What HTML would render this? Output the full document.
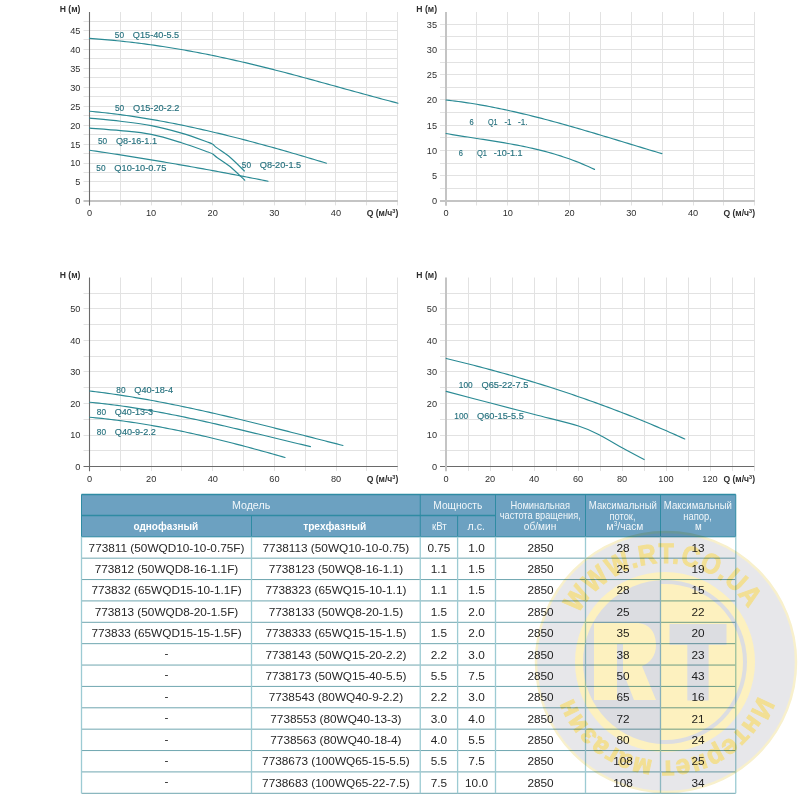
<!DOCTYPE html><html><head><meta charset="utf-8"><title>Pump curves</title><style>
html,body{margin:0;padding:0;background:#fff;width:800px;height:800px;overflow:hidden}
svg{position:absolute;left:0;top:0;font-family:"Liberation Sans", sans-serif}
.tk{font-size:9.2px;fill:#2e2e2e}
.ax{font-size:8.6px;font-weight:bold;fill:#2e2e2e}
.lb{font-size:8.3px;fill:#26717e;stroke:#26717e;stroke-width:0.15px}
.td{font-size:11.8px;fill:#262626}
.th{font-size:10.8px;fill:#f2f7fa}
.thb{font-size:10.8px;fill:#ffffff;font-weight:bold}
</style></head><body>
<svg width="800" height="800" viewBox="0 0 800 800">
<line x1="83.5" y1="191.5" x2="397.9" y2="191.5" stroke="#e2e2e2" stroke-width="1"/>
<line x1="83.5" y1="181.5" x2="397.9" y2="181.5" stroke="#e2e2e2" stroke-width="1"/>
<line x1="83.5" y1="172.5" x2="397.9" y2="172.5" stroke="#e2e2e2" stroke-width="1"/>
<line x1="83.5" y1="163.5" x2="397.9" y2="163.5" stroke="#e2e2e2" stroke-width="1"/>
<line x1="83.5" y1="153.5" x2="397.9" y2="153.5" stroke="#e2e2e2" stroke-width="1"/>
<line x1="83.5" y1="144.5" x2="397.9" y2="144.5" stroke="#e2e2e2" stroke-width="1"/>
<line x1="83.5" y1="134.5" x2="397.9" y2="134.5" stroke="#e2e2e2" stroke-width="1"/>
<line x1="83.5" y1="125.5" x2="397.9" y2="125.5" stroke="#e2e2e2" stroke-width="1"/>
<line x1="83.5" y1="115.5" x2="397.9" y2="115.5" stroke="#e2e2e2" stroke-width="1"/>
<line x1="83.5" y1="106.5" x2="397.9" y2="106.5" stroke="#e2e2e2" stroke-width="1"/>
<line x1="83.5" y1="96.5" x2="397.9" y2="96.5" stroke="#e2e2e2" stroke-width="1"/>
<line x1="83.5" y1="87.5" x2="397.9" y2="87.5" stroke="#e2e2e2" stroke-width="1"/>
<line x1="83.5" y1="77.5" x2="397.9" y2="77.5" stroke="#e2e2e2" stroke-width="1"/>
<line x1="83.5" y1="68.5" x2="397.9" y2="68.5" stroke="#e2e2e2" stroke-width="1"/>
<line x1="83.5" y1="58.5" x2="397.9" y2="58.5" stroke="#e2e2e2" stroke-width="1"/>
<line x1="83.5" y1="49.5" x2="397.9" y2="49.5" stroke="#e2e2e2" stroke-width="1"/>
<line x1="83.5" y1="39.5" x2="397.9" y2="39.5" stroke="#e2e2e2" stroke-width="1"/>
<line x1="83.5" y1="30.5" x2="397.9" y2="30.5" stroke="#e2e2e2" stroke-width="1"/>
<line x1="83.5" y1="21.5" x2="397.9" y2="21.5" stroke="#e2e2e2" stroke-width="1"/>
<line x1="120.5" y1="12" x2="120.5" y2="205.4" stroke="#e2e2e2" stroke-width="1"/>
<line x1="151.5" y1="12" x2="151.5" y2="205.4" stroke="#e2e2e2" stroke-width="1"/>
<line x1="181.5" y1="12" x2="181.5" y2="205.4" stroke="#e2e2e2" stroke-width="1"/>
<line x1="212.5" y1="12" x2="212.5" y2="205.4" stroke="#e2e2e2" stroke-width="1"/>
<line x1="243.5" y1="12" x2="243.5" y2="205.4" stroke="#e2e2e2" stroke-width="1"/>
<line x1="274.5" y1="12" x2="274.5" y2="205.4" stroke="#e2e2e2" stroke-width="1"/>
<line x1="305.5" y1="12" x2="305.5" y2="205.4" stroke="#e2e2e2" stroke-width="1"/>
<line x1="335.5" y1="12" x2="335.5" y2="205.4" stroke="#e2e2e2" stroke-width="1"/>
<line x1="366.5" y1="12" x2="366.5" y2="205.4" stroke="#e2e2e2" stroke-width="1"/>
<line x1="397.5" y1="12" x2="397.5" y2="205.4" stroke="#e2e2e2" stroke-width="1"/>
<line x1="83.5" y1="200.9" x2="397.9" y2="200.9" stroke="#c4c4c4" stroke-width="2"/>
<line x1="89.5" y1="12" x2="89.5" y2="205.6" stroke="#6a6a6a" stroke-width="1.1"/>
<text x="80.4" y="204.3" text-anchor="end" class="tk">0</text>
<text x="80.4" y="185.37" text-anchor="end" class="tk">5</text>
<text x="80.4" y="166.44" text-anchor="end" class="tk">10</text>
<text x="80.4" y="147.51" text-anchor="end" class="tk">15</text>
<text x="80.4" y="128.58" text-anchor="end" class="tk">20</text>
<text x="80.4" y="109.65" text-anchor="end" class="tk">25</text>
<text x="80.4" y="90.72" text-anchor="end" class="tk">30</text>
<text x="80.4" y="71.79" text-anchor="end" class="tk">35</text>
<text x="80.4" y="52.86" text-anchor="end" class="tk">40</text>
<text x="80.4" y="33.93" text-anchor="end" class="tk">45</text>
<text x="89.5" y="216" text-anchor="middle" class="tk">0</text>
<text x="151.1" y="216" text-anchor="middle" class="tk">10</text>
<text x="212.7" y="216" text-anchor="middle" class="tk">20</text>
<text x="274.3" y="216" text-anchor="middle" class="tk">30</text>
<text x="335.9" y="216" text-anchor="middle" class="tk">40</text>
<text x="80.4" y="12" text-anchor="end" class="ax">H (м)</text>
<text x="398.3" y="216.2" text-anchor="end" class="ax">Q (м/ч<tspan font-size="5.5" dy="-3">3</tspan><tspan dy="3">)</tspan></text>
<line x1="440" y1="188.5" x2="754.75" y2="188.5" stroke="#e2e2e2" stroke-width="1"/>
<line x1="440" y1="175.5" x2="754.75" y2="175.5" stroke="#e2e2e2" stroke-width="1"/>
<line x1="440" y1="163.5" x2="754.75" y2="163.5" stroke="#e2e2e2" stroke-width="1"/>
<line x1="440" y1="150.5" x2="754.75" y2="150.5" stroke="#e2e2e2" stroke-width="1"/>
<line x1="440" y1="137.5" x2="754.75" y2="137.5" stroke="#e2e2e2" stroke-width="1"/>
<line x1="440" y1="125.5" x2="754.75" y2="125.5" stroke="#e2e2e2" stroke-width="1"/>
<line x1="440" y1="112.5" x2="754.75" y2="112.5" stroke="#e2e2e2" stroke-width="1"/>
<line x1="440" y1="99.5" x2="754.75" y2="99.5" stroke="#e2e2e2" stroke-width="1"/>
<line x1="440" y1="87.5" x2="754.75" y2="87.5" stroke="#e2e2e2" stroke-width="1"/>
<line x1="440" y1="74.5" x2="754.75" y2="74.5" stroke="#e2e2e2" stroke-width="1"/>
<line x1="440" y1="62.5" x2="754.75" y2="62.5" stroke="#e2e2e2" stroke-width="1"/>
<line x1="440" y1="49.5" x2="754.75" y2="49.5" stroke="#e2e2e2" stroke-width="1"/>
<line x1="440" y1="36.5" x2="754.75" y2="36.5" stroke="#e2e2e2" stroke-width="1"/>
<line x1="440" y1="24.5" x2="754.75" y2="24.5" stroke="#e2e2e2" stroke-width="1"/>
<line x1="476.5" y1="12" x2="476.5" y2="205.5" stroke="#e2e2e2" stroke-width="1"/>
<line x1="507.5" y1="12" x2="507.5" y2="205.5" stroke="#e2e2e2" stroke-width="1"/>
<line x1="538.5" y1="12" x2="538.5" y2="205.5" stroke="#e2e2e2" stroke-width="1"/>
<line x1="569.5" y1="12" x2="569.5" y2="205.5" stroke="#e2e2e2" stroke-width="1"/>
<line x1="600.5" y1="12" x2="600.5" y2="205.5" stroke="#e2e2e2" stroke-width="1"/>
<line x1="631.5" y1="12" x2="631.5" y2="205.5" stroke="#e2e2e2" stroke-width="1"/>
<line x1="662.5" y1="12" x2="662.5" y2="205.5" stroke="#e2e2e2" stroke-width="1"/>
<line x1="693.5" y1="12" x2="693.5" y2="205.5" stroke="#e2e2e2" stroke-width="1"/>
<line x1="723.5" y1="12" x2="723.5" y2="205.5" stroke="#e2e2e2" stroke-width="1"/>
<line x1="754.5" y1="12" x2="754.5" y2="205.5" stroke="#e2e2e2" stroke-width="1"/>
<line x1="440" y1="201" x2="754.75" y2="201" stroke="#c4c4c4" stroke-width="2"/>
<line x1="446" y1="12" x2="446" y2="205.7" stroke="#c4c4c4" stroke-width="2"/>
<text x="437" y="204.4" text-anchor="end" class="tk">0</text>
<text x="437" y="179.14" text-anchor="end" class="tk">5</text>
<text x="437" y="153.87" text-anchor="end" class="tk">10</text>
<text x="437" y="128.6" text-anchor="end" class="tk">15</text>
<text x="437" y="103.34" text-anchor="end" class="tk">20</text>
<text x="437" y="78.08" text-anchor="end" class="tk">25</text>
<text x="437" y="52.81" text-anchor="end" class="tk">30</text>
<text x="437" y="27.55" text-anchor="end" class="tk">35</text>
<text x="446" y="216" text-anchor="middle" class="tk">0</text>
<text x="507.75" y="216" text-anchor="middle" class="tk">10</text>
<text x="569.5" y="216" text-anchor="middle" class="tk">20</text>
<text x="631.25" y="216" text-anchor="middle" class="tk">30</text>
<text x="693" y="216" text-anchor="middle" class="tk">40</text>
<text x="437" y="12" text-anchor="end" class="ax">H (м)</text>
<text x="755" y="216.2" text-anchor="end" class="ax">Q (м/ч<tspan font-size="5.5" dy="-3">3</tspan><tspan dy="3">)</tspan></text>
<line x1="83.5" y1="450.5" x2="397.7" y2="450.5" stroke="#e2e2e2" stroke-width="1"/>
<line x1="83.5" y1="435.5" x2="397.7" y2="435.5" stroke="#e2e2e2" stroke-width="1"/>
<line x1="83.5" y1="419.5" x2="397.7" y2="419.5" stroke="#e2e2e2" stroke-width="1"/>
<line x1="83.5" y1="403.5" x2="397.7" y2="403.5" stroke="#e2e2e2" stroke-width="1"/>
<line x1="83.5" y1="387.5" x2="397.7" y2="387.5" stroke="#e2e2e2" stroke-width="1"/>
<line x1="83.5" y1="371.5" x2="397.7" y2="371.5" stroke="#e2e2e2" stroke-width="1"/>
<line x1="83.5" y1="356.5" x2="397.7" y2="356.5" stroke="#e2e2e2" stroke-width="1"/>
<line x1="83.5" y1="340.5" x2="397.7" y2="340.5" stroke="#e2e2e2" stroke-width="1"/>
<line x1="83.5" y1="324.5" x2="397.7" y2="324.5" stroke="#e2e2e2" stroke-width="1"/>
<line x1="83.5" y1="308.5" x2="397.7" y2="308.5" stroke="#e2e2e2" stroke-width="1"/>
<line x1="83.5" y1="293.5" x2="397.7" y2="293.5" stroke="#e2e2e2" stroke-width="1"/>
<line x1="120.5" y1="277.5" x2="120.5" y2="471.05" stroke="#e2e2e2" stroke-width="1"/>
<line x1="151.5" y1="277.5" x2="151.5" y2="471.05" stroke="#e2e2e2" stroke-width="1"/>
<line x1="181.5" y1="277.5" x2="181.5" y2="471.05" stroke="#e2e2e2" stroke-width="1"/>
<line x1="212.5" y1="277.5" x2="212.5" y2="471.05" stroke="#e2e2e2" stroke-width="1"/>
<line x1="243.5" y1="277.5" x2="243.5" y2="471.05" stroke="#e2e2e2" stroke-width="1"/>
<line x1="274.5" y1="277.5" x2="274.5" y2="471.05" stroke="#e2e2e2" stroke-width="1"/>
<line x1="305.5" y1="277.5" x2="305.5" y2="471.05" stroke="#e2e2e2" stroke-width="1"/>
<line x1="336.5" y1="277.5" x2="336.5" y2="471.05" stroke="#e2e2e2" stroke-width="1"/>
<line x1="366.5" y1="277.5" x2="366.5" y2="471.05" stroke="#e2e2e2" stroke-width="1"/>
<line x1="397.5" y1="277.5" x2="397.5" y2="471.05" stroke="#e2e2e2" stroke-width="1"/>
<line x1="83.5" y1="466.5" x2="397.7" y2="466.5" stroke="#6a6a6a" stroke-width="1.1"/>
<line x1="89.5" y1="277.5" x2="89.5" y2="471.25" stroke="#6a6a6a" stroke-width="1.1"/>
<text x="80.4" y="469.95" text-anchor="end" class="tk">0</text>
<text x="80.4" y="438.41" text-anchor="end" class="tk">10</text>
<text x="80.4" y="406.88" text-anchor="end" class="tk">20</text>
<text x="80.4" y="375.34" text-anchor="end" class="tk">30</text>
<text x="80.4" y="343.81" text-anchor="end" class="tk">40</text>
<text x="80.4" y="312.27" text-anchor="end" class="tk">50</text>
<text x="89.5" y="481.85" text-anchor="middle" class="tk">0</text>
<text x="151.14" y="481.85" text-anchor="middle" class="tk">20</text>
<text x="212.78" y="481.85" text-anchor="middle" class="tk">40</text>
<text x="274.42" y="481.85" text-anchor="middle" class="tk">60</text>
<text x="336.06" y="481.85" text-anchor="middle" class="tk">80</text>
<text x="80.4" y="277.6" text-anchor="end" class="ax">H (м)</text>
<text x="398.3" y="482" text-anchor="end" class="ax">Q (м/ч<tspan font-size="5.5" dy="-3">3</tspan><tspan dy="3">)</tspan></text>
<line x1="440" y1="450.5" x2="754.25" y2="450.5" stroke="#e2e2e2" stroke-width="1"/>
<line x1="440" y1="435.5" x2="754.25" y2="435.5" stroke="#e2e2e2" stroke-width="1"/>
<line x1="440" y1="419.5" x2="754.25" y2="419.5" stroke="#e2e2e2" stroke-width="1"/>
<line x1="440" y1="403.5" x2="754.25" y2="403.5" stroke="#e2e2e2" stroke-width="1"/>
<line x1="440" y1="387.5" x2="754.25" y2="387.5" stroke="#e2e2e2" stroke-width="1"/>
<line x1="440" y1="371.5" x2="754.25" y2="371.5" stroke="#e2e2e2" stroke-width="1"/>
<line x1="440" y1="356.5" x2="754.25" y2="356.5" stroke="#e2e2e2" stroke-width="1"/>
<line x1="440" y1="340.5" x2="754.25" y2="340.5" stroke="#e2e2e2" stroke-width="1"/>
<line x1="440" y1="324.5" x2="754.25" y2="324.5" stroke="#e2e2e2" stroke-width="1"/>
<line x1="440" y1="308.5" x2="754.25" y2="308.5" stroke="#e2e2e2" stroke-width="1"/>
<line x1="440" y1="293.5" x2="754.25" y2="293.5" stroke="#e2e2e2" stroke-width="1"/>
<line x1="468.5" y1="277.5" x2="468.5" y2="471.05" stroke="#e2e2e2" stroke-width="1"/>
<line x1="490.5" y1="277.5" x2="490.5" y2="471.05" stroke="#e2e2e2" stroke-width="1"/>
<line x1="512.5" y1="277.5" x2="512.5" y2="471.05" stroke="#e2e2e2" stroke-width="1"/>
<line x1="534.5" y1="277.5" x2="534.5" y2="471.05" stroke="#e2e2e2" stroke-width="1"/>
<line x1="556.5" y1="277.5" x2="556.5" y2="471.05" stroke="#e2e2e2" stroke-width="1"/>
<line x1="578.5" y1="277.5" x2="578.5" y2="471.05" stroke="#e2e2e2" stroke-width="1"/>
<line x1="600.5" y1="277.5" x2="600.5" y2="471.05" stroke="#e2e2e2" stroke-width="1"/>
<line x1="622.5" y1="277.5" x2="622.5" y2="471.05" stroke="#e2e2e2" stroke-width="1"/>
<line x1="644.5" y1="277.5" x2="644.5" y2="471.05" stroke="#e2e2e2" stroke-width="1"/>
<line x1="666.5" y1="277.5" x2="666.5" y2="471.05" stroke="#e2e2e2" stroke-width="1"/>
<line x1="688.5" y1="277.5" x2="688.5" y2="471.05" stroke="#e2e2e2" stroke-width="1"/>
<line x1="710.5" y1="277.5" x2="710.5" y2="471.05" stroke="#e2e2e2" stroke-width="1"/>
<line x1="732.5" y1="277.5" x2="732.5" y2="471.05" stroke="#e2e2e2" stroke-width="1"/>
<line x1="754.5" y1="277.5" x2="754.5" y2="471.05" stroke="#e2e2e2" stroke-width="1"/>
<line x1="440" y1="466.5" x2="754.25" y2="466.5" stroke="#6a6a6a" stroke-width="1.1"/>
<line x1="446" y1="277.5" x2="446" y2="471.25" stroke="#c4c4c4" stroke-width="2"/>
<text x="437" y="469.95" text-anchor="end" class="tk">0</text>
<text x="437" y="438.41" text-anchor="end" class="tk">10</text>
<text x="437" y="406.88" text-anchor="end" class="tk">20</text>
<text x="437" y="375.34" text-anchor="end" class="tk">30</text>
<text x="437" y="343.81" text-anchor="end" class="tk">40</text>
<text x="437" y="312.27" text-anchor="end" class="tk">50</text>
<text x="446" y="481.85" text-anchor="middle" class="tk">0</text>
<text x="490" y="481.85" text-anchor="middle" class="tk">20</text>
<text x="534" y="481.85" text-anchor="middle" class="tk">40</text>
<text x="578" y="481.85" text-anchor="middle" class="tk">60</text>
<text x="622" y="481.85" text-anchor="middle" class="tk">80</text>
<text x="666" y="481.85" text-anchor="middle" class="tk">100</text>
<text x="710" y="481.85" text-anchor="middle" class="tk">120</text>
<text x="437" y="277.6" text-anchor="end" class="ax">H (м)</text>
<text x="755" y="482" text-anchor="end" class="ax">Q (м/ч<tspan font-size="5.5" dy="-3">3</tspan><tspan dy="3">)</tspan></text>
<path d="M89.5 38.41 L92.55 38.62 L95.61 38.85 L98.66 39.09 L101.72 39.34 L104.77 39.6 L107.83 39.86 L110.88 40.14 L113.94 40.44 L116.99 40.74 L120.04 41.05 L123.1 41.37 L126.15 41.7 L129.21 42.05 L132.26 42.4 L135.32 42.77 L138.37 43.14 L141.43 43.53 L144.48 43.93 L147.53 44.34 L150.59 44.75 L153.64 45.18 L156.7 45.62 L159.75 46.07 L162.81 46.54 L165.86 47.01 L168.92 47.49 L171.97 47.98 L175.02 48.48 L178.08 49 L181.13 49.52 L184.19 50.05 L187.24 50.6 L190.3 51.15 L193.35 51.71 L196.41 52.28 L199.46 52.87 L202.51 53.46 L205.57 54.06 L208.62 54.67 L211.68 55.29 L214.73 55.92 L217.79 56.56 L220.84 57.2 L223.9 57.86 L226.95 58.52 L230 59.2 L233.06 59.88 L236.11 60.57 L239.17 61.26 L242.22 61.97 L245.28 62.68 L248.33 63.4 L251.39 64.13 L254.44 64.86 L257.5 65.61 L260.55 66.35 L263.6 67.11 L266.66 67.87 L269.71 68.64 L272.77 69.41 L275.82 70.19 L278.88 70.98 L281.93 71.77 L284.99 72.56 L288.04 73.37 L291.09 74.17 L294.15 74.98 L297.2 75.8 L300.26 76.61 L303.31 77.44 L306.37 78.26 L309.42 79.09 L312.48 79.92 L315.53 80.76 L318.58 81.59 L321.64 82.43 L324.69 83.27 L327.75 84.11 L330.8 84.96 L333.86 85.8 L336.91 86.65 L339.97 87.49 L343.02 88.34 L346.07 89.18 L349.13 90.03 L352.18 90.87 L355.24 91.72 L358.29 92.56 L361.35 93.4 L364.4 94.23 L367.46 95.07 L370.51 95.9 L373.56 96.73 L376.62 97.56 L379.67 98.38 L382.73 99.19 L385.78 100 L388.84 100.81 L391.89 101.61 L394.95 102.41 L398 103.2" fill="none" stroke="#2a8a94" stroke-width="1.15" stroke-linejoin="round" stroke-linecap="round"/>
<path d="M89.6 111.26 L92.68 111.53 L95.75 111.83 L98.83 112.13 L101.91 112.45 L104.98 112.79 L108.06 113.13 L111.14 113.49 L114.21 113.87 L117.29 114.26 L120.37 114.66 L123.44 115.07 L126.52 115.49 L129.6 115.93 L132.67 116.38 L135.75 116.85 L138.83 117.32 L141.9 117.81 L144.98 118.31 L148.06 118.82 L151.13 119.34 L154.21 119.87 L157.29 120.42 L160.36 120.97 L163.44 121.54 L166.52 122.12 L169.59 122.71 L172.67 123.31 L175.75 123.91 L178.82 124.53 L181.9 125.16 L184.98 125.8 L188.05 126.45 L191.13 127.11 L194.21 127.77 L197.28 128.45 L200.36 129.14 L203.44 129.83 L206.51 130.53 L209.59 131.25 L212.66 131.97 L215.74 132.7 L218.82 133.43 L221.89 134.18 L224.97 134.93 L228.05 135.69 L231.12 136.46 L234.2 137.23 L237.28 138.02 L240.35 138.81 L243.43 139.6 L246.51 140.41 L249.58 141.22 L252.66 142.04 L255.74 142.86 L258.81 143.69 L261.89 144.52 L264.97 145.36 L268.04 146.21 L271.12 147.07 L274.2 147.92 L277.27 148.79 L280.35 149.66 L283.43 150.53 L286.5 151.41 L289.58 152.29 L292.66 153.18 L295.73 154.07 L298.81 154.97 L301.89 155.87 L304.96 156.77 L308.04 157.68 L311.12 158.59 L314.19 159.51 L317.27 160.43 L320.35 161.35 L323.42 162.27 L326.5 163.2" fill="none" stroke="#2a8a94" stroke-width="1.15" stroke-linejoin="round" stroke-linecap="round"/>
<path d="M89.6 118.1C94.77 118.62 110.32 120 120.6 121.25C130.88 122.5 141.1 123.62 151.25 125.6C161.4 127.57 172.04 130.33 181.5 133.1C190.96 135.87 202.79 140.33 208 142.2C213.21 144.07 211.25 143.35 212.75 144.3C214.25 145.25 214.12 145.75 217 147.9C219.88 150.05 225.43 153.35 230 157.2C234.57 161.05 242 168.7 244.4 171" fill="none" stroke="#2a8a94" stroke-width="1.15" stroke-linejoin="round" stroke-linecap="round"/>
<path d="M89.6 128.1C94.77 128.52 110.32 129.55 120.6 130.6C130.88 131.65 141.1 132.38 151.25 134.4C161.4 136.43 172.04 139.82 181.5 142.75C190.96 145.68 202.79 150.11 208 152C213.21 153.89 211.25 153.18 212.75 154.1C214.25 155.02 214.12 155.43 217 157.5C219.88 159.57 225.38 162.71 230 166.5C234.62 170.29 242.29 177.96 244.75 180.25" fill="none" stroke="#2a8a94" stroke-width="1.15" stroke-linejoin="round" stroke-linecap="round"/>
<path d="M89.6 150.25 L92.68 150.71 L95.76 151.16 L98.83 151.62 L101.91 152.09 L104.99 152.55 L108.07 153.02 L111.14 153.49 L114.22 153.97 L117.3 154.44 L120.38 154.92 L123.45 155.4 L126.53 155.89 L129.61 156.38 L132.69 156.87 L135.76 157.36 L138.84 157.86 L141.92 158.36 L145 158.86 L148.07 159.36 L151.15 159.87 L154.23 160.38 L157.31 160.9 L160.38 161.41 L163.46 161.93 L166.54 162.45 L169.62 162.98 L172.69 163.5 L175.77 164.03 L178.85 164.57 L181.93 165.1 L185.01 165.64 L188.08 166.18 L191.16 166.73 L194.24 167.27 L197.32 167.82 L200.39 168.38 L203.47 168.93 L206.55 169.49 L209.63 170.05 L212.7 170.62 L215.78 171.18 L218.86 171.75 L221.94 172.32 L225.01 172.9 L228.09 173.48 L231.17 174.06 L234.25 174.64 L237.32 175.23 L240.4 175.82 L243.48 176.41 L246.56 177 L249.63 177.6 L252.71 178.2 L255.79 178.8 L258.87 179.41 L261.94 180.02 L265.02 180.63 L268.1 181.25" fill="none" stroke="#2a8a94" stroke-width="1.15" stroke-linejoin="round" stroke-linecap="round"/>
<path d="M446 100.01 L449.08 100.36 L452.17 100.72 L455.25 101.1 L458.34 101.5 L461.42 101.92 L464.51 102.36 L467.59 102.82 L470.67 103.3 L473.76 103.79 L476.84 104.3 L479.93 104.83 L483.01 105.38 L486.1 105.94 L489.18 106.51 L492.26 107.11 L495.35 107.71 L498.43 108.34 L501.52 108.98 L504.6 109.63 L507.69 110.29 L510.77 110.97 L513.85 111.66 L516.94 112.37 L520.02 113.09 L523.11 113.82 L526.19 114.56 L529.28 115.31 L532.36 116.08 L535.44 116.85 L538.53 117.64 L541.61 118.43 L544.7 119.24 L547.78 120.05 L550.87 120.88 L553.95 121.71 L557.03 122.55 L560.12 123.4 L563.2 124.26 L566.29 125.12 L569.37 125.99 L572.46 126.87 L575.54 127.76 L578.62 128.65 L581.71 129.54 L584.79 130.44 L587.88 131.35 L590.96 132.26 L594.05 133.17 L597.13 134.09 L600.21 135.01 L603.3 135.94 L606.38 136.86 L609.47 137.8 L612.55 138.73 L615.64 139.66 L618.72 140.6 L621.8 141.53 L624.89 142.47 L627.97 143.41 L631.06 144.35 L634.14 145.29 L637.23 146.22 L640.31 147.16 L643.39 148.09 L646.48 149.03 L649.56 149.96 L652.65 150.89 L655.73 151.81 L658.82 152.73 L661.9 153.65" fill="none" stroke="#2a8a94" stroke-width="1.15" stroke-linejoin="round" stroke-linecap="round"/>
<path d="M446 133.5 L449.09 134.03 L452.19 134.56 L455.28 135.08 L458.38 135.58 L461.47 136.08 L464.56 136.57 L467.66 137.05 L470.75 137.53 L473.84 138.01 L476.94 138.48 L480.03 138.96 L483.12 139.44 L486.22 139.92 L489.31 140.4 L492.41 140.89 L495.5 141.39 L498.59 141.89 L501.69 142.41 L504.78 142.93 L507.88 143.47 L510.97 144.02 L514.06 144.59 L517.16 145.18 L520.25 145.78 L523.34 146.4 L526.44 147.05 L529.53 147.71 L532.62 148.4 L535.72 149.12 L538.81 149.86 L541.91 150.63 L545 151.43 L548.09 152.26 L551.19 153.13 L554.28 154.02 L557.38 154.96 L560.47 155.92 L563.56 156.93 L566.66 157.98 L569.75 159.06 L572.84 160.19 L575.94 161.36 L579.03 162.58 L582.12 163.85 L585.22 165.16 L588.31 166.52 L591.41 167.93 L594.5 169.39" fill="none" stroke="#2a8a94" stroke-width="1.15" stroke-linejoin="round" stroke-linecap="round"/>
<path d="M89.6 390.99 L92.65 391.35 L95.71 391.73 L98.76 392.11 L101.81 392.51 L104.87 392.92 L107.92 393.34 L110.97 393.77 L114.02 394.21 L117.08 394.65 L120.13 395.11 L123.18 395.58 L126.24 396.06 L129.29 396.55 L132.34 397.05 L135.4 397.56 L138.45 398.08 L141.5 398.6 L144.55 399.14 L147.61 399.68 L150.66 400.23 L153.71 400.79 L156.77 401.36 L159.82 401.94 L162.87 402.52 L165.93 403.12 L168.98 403.72 L172.03 404.32 L175.08 404.94 L178.14 405.56 L181.19 406.19 L184.24 406.83 L187.3 407.47 L190.35 408.12 L193.4 408.77 L196.46 409.44 L199.51 410.1 L202.56 410.78 L205.61 411.46 L208.67 412.14 L211.72 412.83 L214.77 413.53 L217.83 414.23 L220.88 414.94 L223.93 415.65 L226.99 416.36 L230.04 417.08 L233.09 417.81 L236.14 418.54 L239.2 419.27 L242.25 420.01 L245.3 420.75 L248.36 421.49 L251.41 422.24 L254.46 422.99 L257.52 423.74 L260.57 424.5 L263.62 425.26 L266.67 426.02 L269.73 426.78 L272.78 427.55 L275.83 428.32 L278.89 429.09 L281.94 429.86 L284.99 430.64 L288.05 431.41 L291.1 432.19 L294.15 432.97 L297.2 433.75 L300.26 434.53 L303.31 435.31 L306.36 436.1 L309.42 436.88 L312.47 437.66 L315.52 438.44 L318.58 439.23 L321.63 440.01 L324.68 440.79 L327.73 441.57 L330.79 442.36 L333.84 443.14 L336.89 443.92 L339.95 444.7 L343 445.47" fill="none" stroke="#2a8a94" stroke-width="1.15" stroke-linejoin="round" stroke-linecap="round"/>
<path d="M89.6 402.24 L92.67 402.53 L95.74 402.84 L98.8 403.16 L101.87 403.49 L104.94 403.84 L108.01 404.2 L111.08 404.58 L114.14 404.97 L117.21 405.38 L120.28 405.8 L123.35 406.23 L126.42 406.67 L129.48 407.13 L132.55 407.6 L135.62 408.08 L138.69 408.57 L141.76 409.07 L144.82 409.59 L147.89 410.12 L150.96 410.65 L154.03 411.2 L157.1 411.76 L160.17 412.32 L163.23 412.9 L166.3 413.49 L169.37 414.08 L172.44 414.69 L175.51 415.3 L178.57 415.92 L181.64 416.55 L184.71 417.18 L187.78 417.83 L190.85 418.48 L193.91 419.14 L196.98 419.8 L200.05 420.47 L203.12 421.15 L206.19 421.83 L209.25 422.52 L212.32 423.21 L215.39 423.91 L218.46 424.61 L221.53 425.32 L224.59 426.03 L227.66 426.75 L230.73 427.47 L233.8 428.19 L236.87 428.92 L239.93 429.65 L243 430.38 L246.07 431.11 L249.14 431.85 L252.21 432.58 L255.28 433.32 L258.34 434.06 L261.41 434.81 L264.48 435.55 L267.55 436.29 L270.62 437.03 L273.68 437.78 L276.75 438.52 L279.82 439.26 L282.89 440 L285.96 440.74 L289.02 441.48 L292.09 442.22 L295.16 442.95 L298.23 443.69 L301.3 444.42 L304.36 445.15 L307.43 445.87 L310.5 446.59" fill="none" stroke="#2a8a94" stroke-width="1.15" stroke-linejoin="round" stroke-linecap="round"/>
<path d="M89.6 417.25 L92.65 417.52 L95.71 417.81 L98.76 418.11 L101.81 418.43 L104.87 418.76 L107.92 419.1 L110.97 419.46 L114.02 419.83 L117.08 420.21 L120.13 420.61 L123.18 421.02 L126.24 421.45 L129.29 421.89 L132.34 422.34 L135.4 422.8 L138.45 423.28 L141.5 423.77 L144.56 424.27 L147.61 424.78 L150.66 425.3 L153.72 425.84 L156.77 426.39 L159.82 426.94 L162.88 427.51 L165.93 428.09 L168.98 428.69 L172.03 429.29 L175.09 429.9 L178.14 430.52 L181.19 431.16 L184.25 431.8 L187.3 432.45 L190.35 433.11 L193.41 433.79 L196.46 434.47 L199.51 435.16 L202.57 435.86 L205.62 436.56 L208.67 437.28 L211.72 438.01 L214.78 438.74 L217.83 439.48 L220.88 440.23 L223.94 440.99 L226.99 441.75 L230.04 442.52 L233.1 443.3 L236.15 444.09 L239.2 444.88 L242.26 445.68 L245.31 446.49 L248.36 447.3 L251.42 448.12 L254.47 448.94 L257.52 449.77 L260.57 450.61 L263.63 451.45 L266.68 452.3 L269.73 453.15 L272.79 454.01 L275.84 454.87 L278.89 455.74 L281.95 456.61 L285 457.49" fill="none" stroke="#2a8a94" stroke-width="1.15" stroke-linejoin="round" stroke-linecap="round"/>
<path d="M446.2 358.47 L449.26 359.2 L452.32 359.94 L455.38 360.69 L458.43 361.44 L461.49 362.2 L464.55 362.97 L467.61 363.74 L470.67 364.52 L473.72 365.31 L476.78 366.1 L479.84 366.9 L482.9 367.71 L485.96 368.52 L489.02 369.34 L492.07 370.17 L495.13 371 L498.19 371.84 L501.25 372.69 L504.31 373.55 L507.37 374.41 L510.43 375.28 L513.48 376.16 L516.54 377.05 L519.6 377.94 L522.66 378.84 L525.72 379.75 L528.77 380.66 L531.83 381.59 L534.89 382.52 L537.95 383.46 L541.01 384.41 L544.07 385.36 L547.12 386.32 L550.18 387.3 L553.24 388.28 L556.3 389.26 L559.36 390.26 L562.42 391.27 L565.48 392.28 L568.53 393.3 L571.59 394.33 L574.65 395.37 L577.71 396.42 L580.77 397.47 L583.83 398.54 L586.88 399.61 L589.94 400.7 L593 401.79 L596.06 402.89 L599.12 404 L602.17 405.12 L605.23 406.25 L608.29 407.39 L611.35 408.53 L614.41 409.69 L617.47 410.85 L620.52 412.03 L623.58 413.21 L626.64 414.41 L629.7 415.61 L632.76 416.83 L635.82 418.05 L638.88 419.28 L641.93 420.53 L644.99 421.78 L648.05 423.04 L651.11 424.32 L654.17 425.6 L657.23 426.9 L660.28 428.2 L663.34 429.51 L666.4 430.84 L669.46 432.17 L672.52 433.52 L675.58 434.88 L678.63 436.24 L681.69 437.62 L684.75 439.01" fill="none" stroke="#2a8a94" stroke-width="1.15" stroke-linejoin="round" stroke-linecap="round"/>
<path d="M446.2 391.4C453.58 393.33 475.78 399.15 490.5 403C505.22 406.85 519.83 410.67 534.5 414.5C549.17 418.33 567.46 422.48 578.5 426C589.54 429.52 593.4 431.98 600.75 435.65C608.1 439.32 615.37 444.01 622.6 448C629.83 451.99 640.56 457.67 644.15 459.6" fill="none" stroke="#2a8a94" stroke-width="1.15" stroke-linejoin="round" stroke-linecap="round"/>
<text x="114.8" y="37.8" class="lb" textLength="9.2" lengthAdjust="spacingAndGlyphs">50</text>
<text x="132.8" y="37.8" class="lb" textLength="46.4" lengthAdjust="spacingAndGlyphs">Q15-40-5.5</text>
<text x="115" y="111.2" class="lb" textLength="9.2" lengthAdjust="spacingAndGlyphs">50</text>
<text x="133" y="111.2" class="lb" textLength="46.4" lengthAdjust="spacingAndGlyphs">Q15-20-2.2</text>
<text x="98" y="144.4" class="lb" textLength="9.2" lengthAdjust="spacingAndGlyphs">50</text>
<text x="116" y="144.4" class="lb" textLength="41" lengthAdjust="spacingAndGlyphs">Q8-16-1.1</text>
<text x="96.3" y="171.4" class="lb" textLength="9.2" lengthAdjust="spacingAndGlyphs">50</text>
<text x="114.3" y="171.4" class="lb" textLength="52" lengthAdjust="spacingAndGlyphs">Q10-10-0.75</text>
<text x="241.8" y="167.6" class="lb" textLength="9.2" lengthAdjust="spacingAndGlyphs">50</text>
<text x="259.8" y="167.6" class="lb" textLength="41.4" lengthAdjust="spacingAndGlyphs">Q8-20-1.5</text>
<text x="469.6" y="125" class="lb" textLength="4.2" lengthAdjust="spacingAndGlyphs">6</text>
<text x="487.9" y="125" class="lb" textLength="9.6" lengthAdjust="spacingAndGlyphs">Q1</text>
<text x="504.4" y="125" class="lb" textLength="7.1" lengthAdjust="spacingAndGlyphs">-1</text>
<text x="518" y="125" class="lb" textLength="9.5" lengthAdjust="spacingAndGlyphs">-1.</text>
<text x="458.8" y="156" class="lb" textLength="4.2" lengthAdjust="spacingAndGlyphs">6</text>
<text x="476.9" y="156" class="lb" textLength="10" lengthAdjust="spacingAndGlyphs">Q1</text>
<text x="493.8" y="156" class="lb" textLength="28.7" lengthAdjust="spacingAndGlyphs">-10-1.1</text>
<text x="116.3" y="393.1" class="lb" textLength="9.2" lengthAdjust="spacingAndGlyphs">80</text>
<text x="134.3" y="393.1" class="lb" textLength="38.7" lengthAdjust="spacingAndGlyphs">Q40-18-4</text>
<text x="96.8" y="414.8" class="lb" textLength="9.2" lengthAdjust="spacingAndGlyphs">80</text>
<text x="114.8" y="414.8" class="lb" textLength="38.2" lengthAdjust="spacingAndGlyphs">Q40-13-3</text>
<text x="96.8" y="434.8" class="lb" textLength="9.2" lengthAdjust="spacingAndGlyphs">80</text>
<text x="114.8" y="434.8" class="lb" textLength="41" lengthAdjust="spacingAndGlyphs">Q40-9-2.2</text>
<text x="458.8" y="388" class="lb" textLength="13.8" lengthAdjust="spacingAndGlyphs">100</text>
<text x="481.5" y="388" class="lb" textLength="46.8" lengthAdjust="spacingAndGlyphs">Q65-22-7.5</text>
<text x="454.3" y="418.6" class="lb" textLength="13.8" lengthAdjust="spacingAndGlyphs">100</text>
<text x="477" y="418.6" class="lb" textLength="46.8" lengthAdjust="spacingAndGlyphs">Q60-15-5.5</text>
<rect x="81.5" y="494.5" width="654.25" height="42.3" fill="#6ca1c1"/>
<line x1="81.5" y1="494.5" x2="735.75" y2="494.5" stroke="#2f8ba3" stroke-width="1.6"/>
<line x1="81.5" y1="515.5" x2="495.5" y2="515.5" stroke="#2f8ba3" stroke-width="1.4"/>
<line x1="81.5" y1="536.8" x2="735.75" y2="536.8" stroke="#2f8ba3" stroke-width="1"/>
<line x1="81.5" y1="494.5" x2="81.5" y2="536.8" stroke="#2f8ba3" stroke-width="1"/>
<line x1="251.5" y1="515.5" x2="251.5" y2="536.8" stroke="#2f8ba3" stroke-width="1"/>
<line x1="420.25" y1="494.5" x2="420.25" y2="536.8" stroke="#2f8ba3" stroke-width="1"/>
<line x1="457.6" y1="515.5" x2="457.6" y2="536.8" stroke="#2f8ba3" stroke-width="1"/>
<line x1="495.5" y1="494.5" x2="495.5" y2="536.8" stroke="#2f8ba3" stroke-width="1"/>
<line x1="585.5" y1="494.5" x2="585.5" y2="536.8" stroke="#2f8ba3" stroke-width="1"/>
<line x1="660.5" y1="494.5" x2="660.5" y2="536.8" stroke="#2f8ba3" stroke-width="1"/>
<line x1="735.75" y1="494.5" x2="735.75" y2="536.8" stroke="#2f8ba3" stroke-width="1"/>
<line x1="81.5" y1="558.17" x2="735.75" y2="558.17" stroke="#6fa6b0" stroke-width="1"/>
<line x1="81.5" y1="579.55" x2="735.75" y2="579.55" stroke="#6fa6b0" stroke-width="1"/>
<line x1="81.5" y1="600.92" x2="735.75" y2="600.92" stroke="#6fa6b0" stroke-width="1"/>
<line x1="81.5" y1="622.3" x2="735.75" y2="622.3" stroke="#6fa6b0" stroke-width="1"/>
<line x1="81.5" y1="643.67" x2="735.75" y2="643.67" stroke="#6fa6b0" stroke-width="1"/>
<line x1="81.5" y1="665.05" x2="735.75" y2="665.05" stroke="#6fa6b0" stroke-width="1"/>
<line x1="81.5" y1="686.42" x2="735.75" y2="686.42" stroke="#6fa6b0" stroke-width="1"/>
<line x1="81.5" y1="707.8" x2="735.75" y2="707.8" stroke="#6fa6b0" stroke-width="1"/>
<line x1="81.5" y1="729.17" x2="735.75" y2="729.17" stroke="#6fa6b0" stroke-width="1"/>
<line x1="81.5" y1="750.55" x2="735.75" y2="750.55" stroke="#6fa6b0" stroke-width="1"/>
<line x1="81.5" y1="771.92" x2="735.75" y2="771.92" stroke="#6fa6b0" stroke-width="1"/>
<line x1="81.5" y1="793.3" x2="735.75" y2="793.3" stroke="#6fa6b0" stroke-width="1"/>
<line x1="81.5" y1="536.8" x2="81.5" y2="793.3" stroke="#9ccbd3" stroke-width="1.3"/>
<line x1="251.5" y1="536.8" x2="251.5" y2="793.3" stroke="#9ccbd3" stroke-width="1.3"/>
<line x1="420.25" y1="536.8" x2="420.25" y2="793.3" stroke="#9ccbd3" stroke-width="1.3"/>
<line x1="457.6" y1="536.8" x2="457.6" y2="793.3" stroke="#9ccbd3" stroke-width="1.3"/>
<line x1="495.5" y1="536.8" x2="495.5" y2="793.3" stroke="#9ccbd3" stroke-width="1.3"/>
<line x1="585.5" y1="536.8" x2="585.5" y2="793.3" stroke="#9ccbd3" stroke-width="1.3"/>
<line x1="660.5" y1="536.8" x2="660.5" y2="793.3" stroke="#9ccbd3" stroke-width="1.3"/>
<line x1="735.75" y1="536.8" x2="735.75" y2="793.3" stroke="#9ccbd3" stroke-width="1.3"/>
<text x="231.9" y="509" class="th" textLength="38.4" lengthAdjust="spacingAndGlyphs">Модель</text>
<text x="133.4" y="530" class="thb" textLength="64.8" lengthAdjust="spacingAndGlyphs">однофазный</text>
<text x="303.2" y="530" class="thb" textLength="63" lengthAdjust="spacingAndGlyphs">трехфазный</text>
<text x="433.3" y="509" class="th" textLength="49" lengthAdjust="spacingAndGlyphs">Мощность</text>
<text x="432" y="529.8" class="th" textLength="14.75" lengthAdjust="spacingAndGlyphs">кВт</text>
<text x="467.5" y="529.8" class="th" textLength="17.5" lengthAdjust="spacingAndGlyphs">л.с.</text>
<text x="510.6" y="508.8" class="th" textLength="59.4" lengthAdjust="spacingAndGlyphs">Номинальная</text>
<text x="499.75" y="519.4" class="th" textLength="81" lengthAdjust="spacingAndGlyphs">частота вращения,</text>
<text x="523.75" y="529.8" class="th" textLength="32.5" lengthAdjust="spacingAndGlyphs">об/мин</text>
<text x="588.75" y="508.8" class="th" textLength="68.25" lengthAdjust="spacingAndGlyphs">Максимальный</text>
<text x="609.5" y="519.6" class="th" textLength="26" lengthAdjust="spacingAndGlyphs">поток,</text>
<text x="606.25" y="529.8" class="th">м<tspan font-size="6.5" dy="-3.5">3</tspan><tspan dy="3.5" textLength="26" lengthAdjust="spacingAndGlyphs">/часм</tspan></text>
<text x="663.75" y="508.8" class="th" textLength="68.25" lengthAdjust="spacingAndGlyphs">Максимальный</text>
<text x="683.25" y="519.6" class="th" textLength="28.5" lengthAdjust="spacingAndGlyphs">напор,</text>
<text x="695" y="529.8" class="th" textLength="6.75" lengthAdjust="spacingAndGlyphs">м</text>
<text x="166.5" y="551.69" text-anchor="middle" class="td">773811 (50WQD10-10-0.75F)</text>
<text x="335.88" y="551.69" text-anchor="middle" class="td">7738113 (50WQ10-10-0.75)</text>
<text x="438.93" y="551.69" text-anchor="middle" class="td">0.75</text>
<text x="476.55" y="551.69" text-anchor="middle" class="td">1.0</text>
<text x="540.5" y="551.69" text-anchor="middle" class="td">2850</text>
<text x="623" y="551.69" text-anchor="middle" class="td">28</text>
<text x="698.12" y="551.69" text-anchor="middle" class="td">13</text>
<text x="166.5" y="573.06" text-anchor="middle" class="td">773812 (50WQD8-16-1.1F)</text>
<text x="335.88" y="573.06" text-anchor="middle" class="td">7738123 (50WQ8-16-1.1)</text>
<text x="438.93" y="573.06" text-anchor="middle" class="td">1.1</text>
<text x="476.55" y="573.06" text-anchor="middle" class="td">1.5</text>
<text x="540.5" y="573.06" text-anchor="middle" class="td">2850</text>
<text x="623" y="573.06" text-anchor="middle" class="td">25</text>
<text x="698.12" y="573.06" text-anchor="middle" class="td">19</text>
<text x="166.5" y="594.44" text-anchor="middle" class="td">773832 (65WQD15-10-1.1F)</text>
<text x="335.88" y="594.44" text-anchor="middle" class="td">7738323 (65WQ15-10-1.1)</text>
<text x="438.93" y="594.44" text-anchor="middle" class="td">1.1</text>
<text x="476.55" y="594.44" text-anchor="middle" class="td">1.5</text>
<text x="540.5" y="594.44" text-anchor="middle" class="td">2850</text>
<text x="623" y="594.44" text-anchor="middle" class="td">28</text>
<text x="698.12" y="594.44" text-anchor="middle" class="td">15</text>
<text x="166.5" y="615.81" text-anchor="middle" class="td">773813 (50WQD8-20-1.5F)</text>
<text x="335.88" y="615.81" text-anchor="middle" class="td">7738133 (50WQ8-20-1.5)</text>
<text x="438.93" y="615.81" text-anchor="middle" class="td">1.5</text>
<text x="476.55" y="615.81" text-anchor="middle" class="td">2.0</text>
<text x="540.5" y="615.81" text-anchor="middle" class="td">2850</text>
<text x="623" y="615.81" text-anchor="middle" class="td">25</text>
<text x="698.12" y="615.81" text-anchor="middle" class="td">22</text>
<text x="166.5" y="637.19" text-anchor="middle" class="td">773833 (65WQD15-15-1.5F)</text>
<text x="335.88" y="637.19" text-anchor="middle" class="td">7738333 (65WQ15-15-1.5)</text>
<text x="438.93" y="637.19" text-anchor="middle" class="td">1.5</text>
<text x="476.55" y="637.19" text-anchor="middle" class="td">2.0</text>
<text x="540.5" y="637.19" text-anchor="middle" class="td">2850</text>
<text x="623" y="637.19" text-anchor="middle" class="td">35</text>
<text x="698.12" y="637.19" text-anchor="middle" class="td">20</text>
<text x="166.5" y="657.06" text-anchor="middle" class="td">-</text>
<text x="335.88" y="658.56" text-anchor="middle" class="td">7738143 (50WQ15-20-2.2)</text>
<text x="438.93" y="658.56" text-anchor="middle" class="td">2.2</text>
<text x="476.55" y="658.56" text-anchor="middle" class="td">3.0</text>
<text x="540.5" y="658.56" text-anchor="middle" class="td">2850</text>
<text x="623" y="658.56" text-anchor="middle" class="td">38</text>
<text x="698.12" y="658.56" text-anchor="middle" class="td">23</text>
<text x="166.5" y="678.44" text-anchor="middle" class="td">-</text>
<text x="335.88" y="679.94" text-anchor="middle" class="td">7738173 (50WQ15-40-5.5)</text>
<text x="438.93" y="679.94" text-anchor="middle" class="td">5.5</text>
<text x="476.55" y="679.94" text-anchor="middle" class="td">7.5</text>
<text x="540.5" y="679.94" text-anchor="middle" class="td">2850</text>
<text x="623" y="679.94" text-anchor="middle" class="td">50</text>
<text x="698.12" y="679.94" text-anchor="middle" class="td">43</text>
<text x="166.5" y="699.81" text-anchor="middle" class="td">-</text>
<text x="335.88" y="701.31" text-anchor="middle" class="td">7738543 (80WQ40-9-2.2)</text>
<text x="438.93" y="701.31" text-anchor="middle" class="td">2.2</text>
<text x="476.55" y="701.31" text-anchor="middle" class="td">3.0</text>
<text x="540.5" y="701.31" text-anchor="middle" class="td">2850</text>
<text x="623" y="701.31" text-anchor="middle" class="td">65</text>
<text x="698.12" y="701.31" text-anchor="middle" class="td">16</text>
<text x="166.5" y="721.19" text-anchor="middle" class="td">-</text>
<text x="335.88" y="722.69" text-anchor="middle" class="td">7738553 (80WQ40-13-3)</text>
<text x="438.93" y="722.69" text-anchor="middle" class="td">3.0</text>
<text x="476.55" y="722.69" text-anchor="middle" class="td">4.0</text>
<text x="540.5" y="722.69" text-anchor="middle" class="td">2850</text>
<text x="623" y="722.69" text-anchor="middle" class="td">72</text>
<text x="698.12" y="722.69" text-anchor="middle" class="td">21</text>
<text x="166.5" y="742.56" text-anchor="middle" class="td">-</text>
<text x="335.88" y="744.06" text-anchor="middle" class="td">7738563 (80WQ40-18-4)</text>
<text x="438.93" y="744.06" text-anchor="middle" class="td">4.0</text>
<text x="476.55" y="744.06" text-anchor="middle" class="td">5.5</text>
<text x="540.5" y="744.06" text-anchor="middle" class="td">2850</text>
<text x="623" y="744.06" text-anchor="middle" class="td">80</text>
<text x="698.12" y="744.06" text-anchor="middle" class="td">24</text>
<text x="166.5" y="763.94" text-anchor="middle" class="td">-</text>
<text x="335.88" y="765.44" text-anchor="middle" class="td">7738673 (100WQ65-15-5.5)</text>
<text x="438.93" y="765.44" text-anchor="middle" class="td">5.5</text>
<text x="476.55" y="765.44" text-anchor="middle" class="td">7.5</text>
<text x="540.5" y="765.44" text-anchor="middle" class="td">2850</text>
<text x="623" y="765.44" text-anchor="middle" class="td">108</text>
<text x="698.12" y="765.44" text-anchor="middle" class="td">25</text>
<text x="166.5" y="785.31" text-anchor="middle" class="td">-</text>
<text x="335.88" y="786.81" text-anchor="middle" class="td">7738683 (100WQ65-22-7.5)</text>
<text x="438.93" y="786.81" text-anchor="middle" class="td">7.5</text>
<text x="476.55" y="786.81" text-anchor="middle" class="td">10.0</text>
<text x="540.5" y="786.81" text-anchor="middle" class="td">2850</text>
<text x="623" y="786.81" text-anchor="middle" class="td">108</text>
<text x="698.12" y="786.81" text-anchor="middle" class="td">34</text>
<g style="mix-blend-mode:multiply">
<circle cx="666" cy="662" r="130" fill="#e7e7ea" stroke="#f8f0cc" stroke-width="2.5"/>
<circle cx="665" cy="662" r="90" fill="#fdf1bf"/>
<circle cx="665" cy="662" r="82" fill="#dcdde1"/>
<defs><clipPath id="rh"><rect x="661" y="500" width="200" height="300"/></clipPath><path id="ring" d="M566 662 A99 99 0 1 1 764 662 A99 99 0 1 1 566 662"/></defs>
<circle cx="665" cy="662" r="78" fill="#fdf1bf" clip-path="url(#rh)"/>
<path d="M594 623 H636 C650 623 656 633 656 645 C656 656 650 663 642 666 L656 700 H634 L623 672 V700 H594 Z" fill="#fdf1bf"/>
<rect x="617" y="644" width="6" height="56" fill="#dcdde1"/>
<path d="M669.5 624 H726.5 V644.7 H708.6 V700.4 H687.3 V644.7 H669.5 Z" fill="#dcdde1"/>
<text font-size="28" font-weight="bold" letter-spacing="1" stroke="#f2df94" stroke-width="1" fill="#f2df94"><textPath href="#ring" startOffset="50" textLength="205" lengthAdjust="spacingAndGlyphs">WWW.RT.CO.UA</textPath></text>
<text font-size="27" font-weight="bold" letter-spacing="0.5" stroke="#f2df94" stroke-width="1" fill="#f2df94"><textPath href="#ring" startOffset="345" textLength="240" lengthAdjust="spacingAndGlyphs">Интернет магазин</textPath></text>
</g>
</svg>
</body></html>
